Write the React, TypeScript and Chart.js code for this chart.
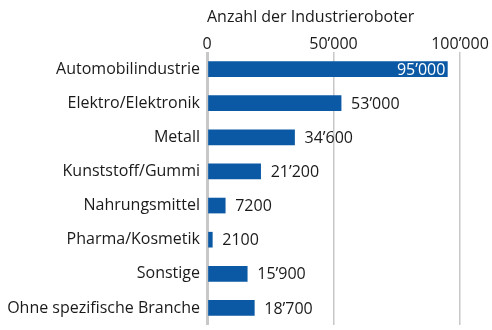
import React, { useEffect, useRef } from "react";
import { Chart, registerables } from "chart.js";

Chart.register(...registerables);

const categories = [
  "Automobilindustrie",
  "Elektro/Elektronik",
  "Metall",
  "Kunststoff/Gummi",
  "Nahrungsmittel",
  "Pharma/Kosmetik",
  "Sonstige",
  "Ohne spezifische Branche",
];
const values = [95000, 53000, 34600, 21200, 7200, 2100, 15900, 18700];
const axisTitle = "Anzahl der Industrieroboter";
const tickValues = [0, 50000, 100000];

const FONT = "Open Sans";
const FSIZE = 16;
const BAR = "#0b59a5";

function fmt(v: number): string {
  if (Math.abs(v) < 10000) return String(v);
  return String(v).replace(/\B(?=(\d{3})+(?!\d))/g, "\u2019");
}

const labelPlugin = {
  id: "barLabels",
  afterDatasetsDraw(chart: any) {
    const ctx = chart.ctx;
    const meta = chart.getDatasetMeta(0);
    ctx.save();
    ctx.font = `${FSIZE}px "${FONT}"`;
    ctx.textBaseline = "middle";
    meta.data.forEach((bar: any, i: number) => {
      const v = values[i];
      const txt = fmt(v);
      if (v > 80000) {
        ctx.fillStyle = "#ffffff";
        ctx.textAlign = "right";
        ctx.fillText(txt, bar.x - 2, bar.y + 1);
      } else {
        ctx.fillStyle = "#1a1a1a";
        ctx.textAlign = "left";
        ctx.fillText(txt, bar.x + 10, bar.y + 1);
      }
    });
    ctx.restore();
  },
};

export default function App() {
  const ref = useRef<HTMLCanvasElement | null>(null);
  useEffect(() => {
    if (!ref.current) return;
    const chart = new Chart(ref.current, {
      type: "bar",
      data: {
        labels: categories,
        datasets: [
          {
            data: values,
            backgroundColor: BAR,
            barThickness: 15,
            borderWidth: 0,
          },
        ],
      },
      options: {
        indexAxis: "y",
        animation: false,
        responsive: true,
        maintainAspectRatio: false,
        layout: { padding: { top: 0, right: 32, bottom: 5, left: 0 } },
        plugins: {
          legend: { display: false },
          tooltip: { enabled: false },
        },
        scales: {
          x: {
            position: "top",
            min: 0,
            max: 100000,
            afterBuildTicks: (s: any) => {
              s.ticks = tickValues.map((v) => ({ value: v }));
            },
            afterFit: (s: any) => {
              s.height = 52;
            },
            ticks: {
              callback: (v: any) => fmt(Number(v)),
              color: "#1a1a1a",
              font: { family: FONT, size: FSIZE },
              padding: -2,
              maxRotation: 0,
            },
            grid: {
              drawTicks: false,
              color: "#c8c8c8",
              lineWidth: (c: any) => (c.tick && c.tick.value === 0 ? 3 : 1.5),
            },
            border: { display: false },
            title: {
              display: true,
              text: axisTitle,
              align: "start",
              color: "#1a1a1a",
              font: { family: FONT, size: FSIZE },
              padding: { top: 8, bottom: 4 },
            },
          },
          y: {
            afterFit: (s: any) => {
              s.width = 207;
              s.paddingTop = 0;
              s.paddingBottom = 0;
            },
            ticks: {
              color: "#1a1a1a",
              font: { family: FONT, size: FSIZE },
              padding: 7,
            },
            grid: { display: false, drawTicks: false },
            border: { display: false },
          },
        },
      },
      plugins: [labelPlugin],
    });
    return () => chart.destroy();
  }, []);
  return (
    <div style={{ position: "fixed", left: 0, top: 0, width: 492, height: 330, background: "#fff" }}>
      <canvas ref={ref} />
    </div>
  );
}
